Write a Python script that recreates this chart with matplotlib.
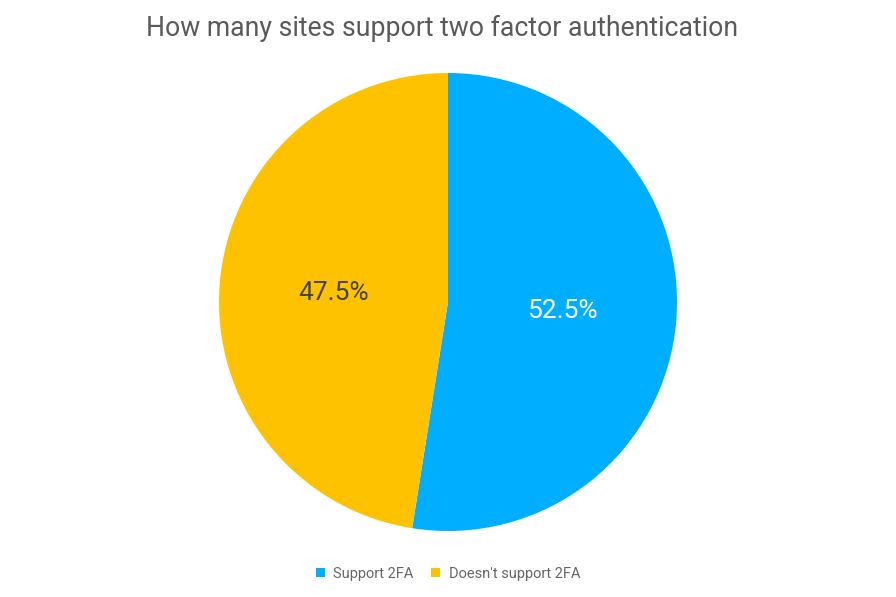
import matplotlib.pyplot as plt
from matplotlib.patches import Patch

plt.rcParams['font.family'] = ['Roboto', 'DejaVu Sans']

labels = ['Support 2FA', "Doesn't support 2FA"]
values = [52.5, 47.5]
colors = ['#00AEFF', '#FFC200']

fig = plt.figure(figsize=(8.96, 5.97), dpi=100)
ax = fig.add_axes([219 / 896, 66 / 597, 458 / 896, 458 / 597])

wedges, texts, autotexts = ax.pie(values, colors=colors, startangle=90, counterclock=False,
                                  autopct='%.1f%%', pctdistance=0.5,
                                  wedgeprops=dict(linewidth=0))
autotexts[0].set_color('white')
autotexts[1].set_color('#444444')
for t in autotexts:
    t.set_fontsize(19)
ax.set_aspect('equal')
ax.set_xlim(-1, 1)
ax.set_ylim(-1, 1)

fig.text(442 / 896, 1 - 28 / 597, 'How many sites support two factor authentication',
         ha='center', va='center', fontsize=19.2, color='#5a5a5a')

handles = [Patch(facecolor=c, label=l) for c, l in zip(colors, labels)]
fig.legend(handles=handles, loc='center', bbox_to_anchor=(0.5, 1 - 574 / 597), ncol=2,
           frameon=False, fontsize=10.5, labelcolor='#666666', handlelength=0.6,
           handleheight=0.6, handletextpad=0.6, columnspacing=1.2)

fig.savefig('out.png', dpi=100)
